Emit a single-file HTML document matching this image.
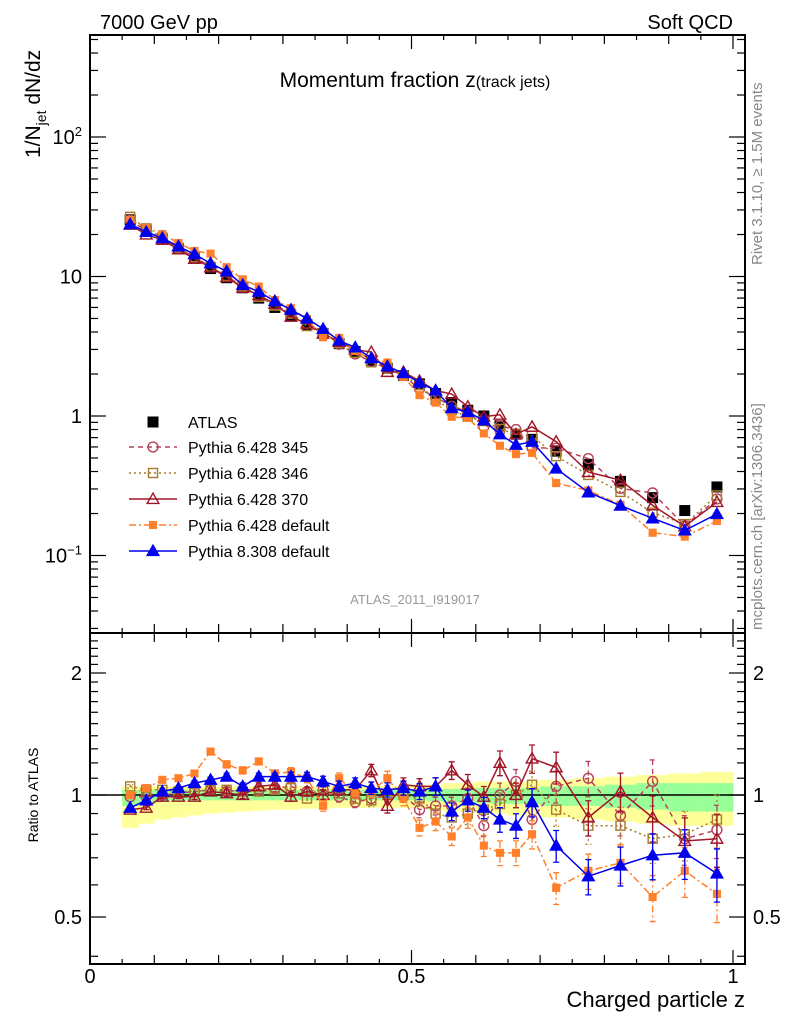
<!DOCTYPE html>
<html><head><meta charset="utf-8">
<style>
html,body{margin:0;padding:0;background:#fff;}
svg{display:block;font-family:"Liberation Sans",Arial,sans-serif;}
</style></head>
<body>
<svg id="c" width="786" height="1024" viewBox="0 0 786 1024" xmlns="http://www.w3.org/2000/svg">
<rect x="0" y="0" width="786" height="1024" fill="#fff"/>
<g id="bands"></g>
<g id="grid"></g>
<g id="series"></g>
<text x="100" y="29" font-size="20">7000 GeV pp</text>
<text x="733" y="29" font-size="20" text-anchor="end">Soft QCD</text>
<text x="415" y="87" font-size="21" text-anchor="middle">Momentum fraction z<tspan font-size="16">(track jets)</tspan></text>
<text x="415" y="604" font-size="13" fill="#999" text-anchor="middle">ATLAS_2011_I919017</text>
<text transform="translate(40,158) rotate(-90)" font-size="21">1/N<tspan font-size="14" dy="6">jet</tspan><tspan dy="-6"> dN/dz</tspan></text>
<text transform="translate(38,795) rotate(-90)" font-size="14" text-anchor="middle">Ratio to ATLAS</text>
<text x="745" y="1007" font-size="22" text-anchor="end">Charged particle z</text>
<text transform="translate(762,265) rotate(-90)" font-size="15" fill="#888">Rivet 3.1.10, ≥ 1.5M events</text>
<text transform="translate(762,630) rotate(-90)" font-size="15" fill="#888">mcplots.cern.ch [arXiv:1306.3436]</text>
<g id="legend"></g>
</svg>
<script>
// ---- data ----
const binLo = [0.05,0.075,0.1,0.125,0.15,0.175,0.2,0.225,0.25,0.275,0.3,0.325,0.35,0.375,0.4,0.425,0.45,0.475,0.5,0.525,0.55,0.575,0.6,0.625,0.65,0.675,0.7,0.75,0.8,0.85,0.9,0.95];
const binHi = [0.075,0.1,0.125,0.15,0.175,0.2,0.225,0.25,0.275,0.3,0.325,0.35,0.375,0.4,0.425,0.45,0.475,0.5,0.525,0.55,0.575,0.6,0.625,0.65,0.675,0.7,0.75,0.8,0.85,0.9,0.95,1.0];
const atlas = [25.5,21.5,18.5,15.8,13.5,11.4,9.8,8.3,7.0,6.0,5.2,4.5,3.9,3.3,2.9,2.5,2.2,1.95,1.7,1.45,1.25,1.1,1.0,0.85,0.74,0.68,0.56,0.45,0.34,0.26,0.21,0.31];
const statLo = [0.94,0.95,0.96,0.965,0.97,0.97,0.97,0.97,0.97,0.97,0.97,0.97,0.97,0.97,0.97,0.97,0.97,0.97,0.97,0.965,0.96,0.96,0.955,0.95,0.95,0.95,0.94,0.94,0.93,0.92,0.91,0.91];
const statHi = [1.03,1.03,1.03,1.03,1.03,1.03,1.03,1.03,1.03,1.03,1.03,1.03,1.03,1.03,1.03,1.03,1.03,1.03,1.03,1.035,1.035,1.04,1.04,1.04,1.04,1.04,1.05,1.05,1.06,1.07,1.07,1.07];
const totLo = [0.83,0.85,0.87,0.88,0.89,0.90,0.905,0.91,0.915,0.92,0.92,0.925,0.925,0.93,0.93,0.93,0.93,0.93,0.93,0.92,0.91,0.91,0.90,0.90,0.89,0.89,0.88,0.87,0.86,0.85,0.84,0.84];
const totHi = [1.05,1.05,1.05,1.05,1.05,1.05,1.05,1.05,1.05,1.05,1.05,1.05,1.05,1.05,1.05,1.05,1.05,1.05,1.06,1.06,1.07,1.07,1.08,1.08,1.08,1.08,1.09,1.1,1.11,1.12,1.13,1.14];
const r345 = [0.99,0.99,1.0,1.01,1.02,1.03,1.02,1.03,1.03,1.04,1.05,1.02,1.03,0.99,0.96,0.98,1.0,1.0,0.92,0.94,0.94,0.98,0.84,1.0,1.08,0.87,1.05,1.1,0.89,1.08,0.78,0.82];
const r346 = [1.05,1.03,1.03,1.02,1.02,1.03,1.03,1.02,1.02,1.03,1.04,0.98,1.0,1.01,0.98,0.97,1.0,1.0,0.98,0.90,0.88,0.90,0.92,0.95,1.0,1.06,0.92,0.84,0.84,0.78,0.80,0.87];
const r370 = [0.92,0.93,0.99,0.99,0.99,1.02,1.01,1.0,1.05,1.06,0.99,1.02,1.0,1.03,1.03,1.15,0.94,1.06,1.05,1.05,1.15,1.06,0.99,1.2,1.0,1.23,1.17,0.88,1.02,0.88,0.77,0.78];
const r6def = [1.0,1.04,1.09,1.10,1.13,1.28,1.19,1.15,1.21,1.13,1.14,1.10,0.94,1.10,1.01,1.02,1.10,0.98,0.83,0.86,0.79,0.88,0.75,0.72,0.72,0.80,0.59,0.65,0.68,0.56,0.65,0.57];
const r8def = [0.93,0.97,1.02,1.04,1.07,1.09,1.11,1.05,1.11,1.11,1.11,1.11,1.08,1.05,1.07,1.04,1.03,1.04,1.02,1.05,0.91,0.97,0.93,0.87,0.84,0.96,0.75,0.63,0.67,0.71,0.72,0.64];
const relErr = [0.01,0.01,0.01,0.01,0.015,0.015,0.02,0.02,0.02,0.02,0.025,0.025,0.03,0.03,0.03,0.035,0.04,0.04,0.045,0.05,0.05,0.06,0.06,0.07,0.07,0.08,0.09,0.1,0.11,0.13,0.14,0.15];
const yTicksMain = [0.1,1,10,100];
const yTickLabelsMain = ["10<tspan font-size='13' dy='-8'>−1</tspan>","1","10","10<tspan font-size='13' dy='-8'>2</tspan>"];
const ratioTicks = [0.5,1,2];
const ratioTickLabels = ["0.5","1","2"];
const xTickLabels = ["0","0.5","1"];
const xTickVals = [0,0.5,1];

// ---- axes ----
const X0=90, X1=745, Y0=35, YM=633, YB=964;
const xs = z => 90 + z*643;
const ys = v => 416 - 139.5*Math.log10(v);
const yr = r => 795 - 122*Math.log2(r);
const NS="http://www.w3.org/2000/svg";
function mk(tag, attrs, parent){const e=document.createElementNS(NS,tag);for(const k in attrs)e.setAttribute(k,attrs[k]);parent.appendChild(e);return e;}
const grid=document.getElementById('grid'), ser=document.getElementById('series'), bands=document.getElementById('bands'), leg=document.getElementById('legend');

for(let i=0;i<binLo.length;i++){
  const x=xs(binLo[i]), w=xs(binHi[i])-xs(binLo[i])+0.5;
  let r=mk('rect',{x:x,y:yr(totHi[i]),width:w,height:yr(totLo[i])-yr(totHi[i]),fill:'#ffff99'},bands);
  
  
  r=mk('rect',{x:x,y:yr(statHi[i]),width:w,height:yr(statLo[i])-yr(statHi[i]),fill:'#99ff99'},bands);
  
  
}
let f=mk('rect',{x:X0,y:Y0,width:X1-X0,height:YM-Y0,fill:'none',stroke:'#000','stroke-width':2},grid);


f=mk('rect',{x:X0,y:YM,width:X1-X0,height:YB-YM,fill:'none',stroke:'#000','stroke-width':2},grid);


let ul=mk('line',{x1:X0,x2:X1,y1:yr(1),y2:yr(1),stroke:'#000','stroke-width':1.5},grid);


for(let k=0;k<=20;k++){
  const z=k*0.05, x=xs(z);
  const L = (k%10===0)?14:(k%2===0?9:5);
  for(const [yb,dir] of [[Y0,1],[YM,-1],[YM,1],[YB,-1]]){
    const t=mk('line',{x1:x,x2:x,y1:yb,y2:yb+dir*L,stroke:'#000','stroke-width':1.2},grid);
    
    
  }
}
xTickVals.forEach((v,i)=>{
  const t=mk('text',{x:xs(v),y:983,'font-size':20,'text-anchor':'middle'},grid);
  t.textContent=xTickLabels[i];
  
  
});
for(let d=-2;d<=2;d++){
  for(let m=1;m<=9;m++){
    const v=m*Math.pow(10,d), y=ys(v);
    if(y<Y0||y>YM) continue;
    const L=m===1?16:8;
    for(const [xb,dir] of [[X0,1],[X1,-1]]){
      const t=mk('line',{x1:xb,x2:xb+dir*L,y1:y,y2:y,stroke:'#000','stroke-width':1.2},grid);
      
      
    }
  }
}
yTicksMain.forEach((v,i)=>{
  const t=mk('text',{x:82,y:ys(v)+7,'font-size':20,'text-anchor':'end'},grid);
  t.innerHTML=yTickLabelsMain[i];
  
  
});
for(let v=0.4;v<=2.5;v+=0.1){
  const y=yr(v); if(y<YM||y>YB) continue;
  const major=Math.abs(v-0.5)<1e-6||Math.abs(v-1)<1e-6||Math.abs(v-2)<1e-6;
  const L=major?16:8;
  for(const [xb,dir] of [[X0,1],[X1,-1]]){
    const t=mk('line',{x1:xb,x2:xb+dir*L,y1:y,y2:y,stroke:'#000','stroke-width':1.2},grid);
    
    
  }
}
ratioTicks.forEach((v,i)=>{
  let t=mk('text',{x:82,y:yr(v)+7,'font-size':20,'text-anchor':'end'},grid);
  t.textContent=ratioTickLabels[i];
  
  
  t=mk('text',{x:753,y:yr(v)+7,'font-size':20},grid);
  t.textContent=ratioTickLabels[i];
  
  
});

const models=[
  {name:'pythia-6428-345',label:'Pythia 6.428 345',r:r345,color:'#b8405a',dash:'5,4',marker:'circle'},
  {name:'pythia-6428-346',label:'Pythia 6.428 346',r:r346,color:'#a8792c',dash:'2,3',marker:'osquare'},
  {name:'pythia-6428-370',label:'Pythia 6.428 370',r:r370,color:'#a01528',dash:'',marker:'otri'},
  {name:'pythia-6428-default',label:'Pythia 6.428 default',r:r6def,color:'#ff7f2a',dash:'7,3,2,3',marker:'fsquare'},
  {name:'pythia-8308-default',label:'Pythia 8.308 default',r:r8def,color:'#0000ee',dash:'',marker:'ftri'}
];
function marker(g,type,x,y,c,s){
  let e;
  if(type==='circle') e=mk('circle',{cx:x,cy:y,r:s*0.55,fill:'none',stroke:c,'stroke-width':1.4},g);
  else if(type==='osquare') e=mk('rect',{x:x-s*0.5,y:y-s*0.5,width:s,height:s,fill:'none',stroke:c,'stroke-width':1.4},g);
  else if(type==='fsquare') e=mk('rect',{x:x-s*0.45,y:y-s*0.45,width:s*0.9,height:s*0.9,fill:c},g);
  else if(type==='bsquare') e=mk('rect',{x:x-s*0.55,y:y-s*0.55,width:s*1.1,height:s*1.1,fill:c},g);
  else { const h=s*0.65; e=mk('polygon',{points:`${x-h},${y+h*0.75} ${x+h},${y+h*0.75} ${x},${y-h}`,fill:type==='ftri'?c:'none',stroke:c,'stroke-width':1.4},g); }
  
  
}
const cx = i => xs((binLo[i]+binHi[i])/2);
const ga=mk('g',{},ser);


for(let i=0;i<atlas.length;i++) marker(ga,'bsquare',cx(i),ys(atlas[i]),'#000',10);
models.forEach(m=>{
  const g=mk('g',{},ser);
  
  
  const ptsTop=[], ptsR=[];
  for(let i=0;i<atlas.length;i++){ptsTop.push([cx(i),ys(atlas[i]*m.r[i])]);ptsR.push([cx(i),yr(m.r[i])]);}
  for(const pts of [ptsTop,ptsR]){
    const p=mk('polyline',{points:pts.map(p=>p.join(',')).join(' '),fill:'none',stroke:m.color,'stroke-width':1.5,'stroke-dasharray':m.dash},g);
    
    
  }
  for(let i=0;i<atlas.length;i++){
    const x=cx(i), e=relErr[i];
    const y1=yr(m.r[i]*(1+e)), y2=yr(m.r[i]*(1-e));
    const eb=mk('path',{d:`M${x},${y1}V${y2}M${x-3},${y1}H${x+3}M${x-3},${y2}H${x+3}`,stroke:m.color,'stroke-width':1.3,fill:'none','stroke-dasharray':m.dash},g);
    
    
    marker(g,m.marker,x,ys(atlas[i]*m.r[i]),m.color,9);
    marker(g,m.marker,x,yr(m.r[i]),m.color,9);
  }
});

const legY=[422,447,473,499,525,551];
let t=mk('g',{},leg);


marker(t,'bsquare',153,legY[0],'#000',10);
let tx=mk('text',{x:188,y:legY[0]+6,'font-size':16},t); tx.textContent='ATLAS';
models.forEach((m,k)=>{
  const g=mk('g',{},leg);
  
  
  const y=legY[k+1];
  mk('line',{x1:129,x2:177,y1:y,y2:y,stroke:m.color,'stroke-width':1.5,'stroke-dasharray':m.dash},g);
  marker(g,m.marker,153,y,m.color,9);
  const tt=mk('text',{x:188,y:y+6,'font-size':16},g); tt.textContent=m.label;
});
</script>
</body></html>
